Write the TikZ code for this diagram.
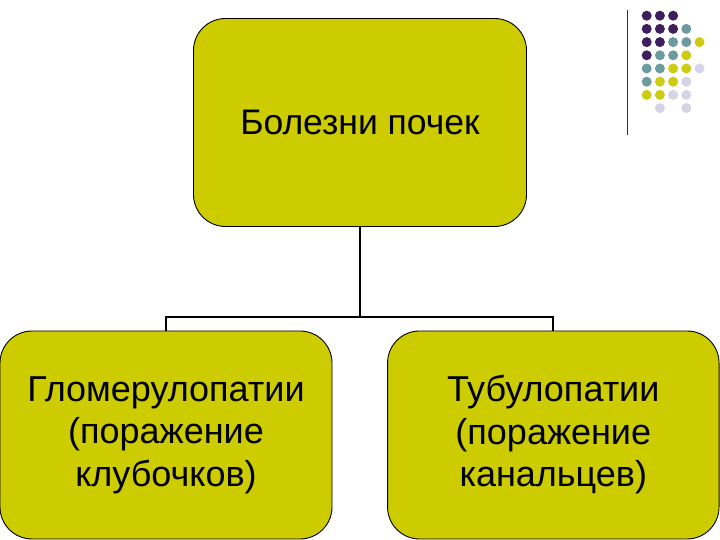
\documentclass[tikz,border=0pt]{standalone}
\usepackage{fontspec}
\setmainfont{Liberation Sans}
\definecolor{boxfill}{RGB}{204,204,0}
\definecolor{dpurple}{RGB}{62,30,92}
\definecolor{dteal}{RGB}{108,155,157}
\definecolor{dyellow}{RGB}{204,204,20}
\definecolor{dlav}{RGB}{212,212,230}
\tikzset{
  box/.style={draw=black, line width=0.9pt, fill=boxfill, rounded corners=32pt, align=center, inner sep=0pt},
  conn/.style={draw=black, line width=2pt},
  dot/.style={circle, inner sep=0pt, minimum size=10pt}
}
\begin{document}
\begin{tikzpicture}[x=1pt,y=1pt]
\useasboundingbox (0,0) rectangle (720,540);
\node[box, minimum width=333pt, minimum height=208pt, font=\fontsize{35.5}{40}\selectfont] (top) at (360,417.5) {Болезни почек};
\node[box, minimum width=332pt, minimum height=208pt, font=\fontsize{36}{42.5}\selectfont] (left) at (166,105) {Гломерулопатии\\(поражение\\клубочков)};
\node[box, minimum width=331.5pt, minimum height=208pt, font=\fontsize{36}{42.5}\selectfont] (right) at (553.3,105) {Тубулопатии\\(поражение\\канальцев)};
\coordinate (j) at (360,222.5);
\draw[conn] (top.south) -- (j);
\draw[conn] (left.north) |- (j) -| (right.north);
% decorative line and dots
\coordinate (vl1) at (627.7,530);
\coordinate (vl2) at (627.7,405);
\draw[line width=1pt, black!80] (vl1) -- (vl2);
\foreach \r/\cols in {0/{dpurple,dpurple,dpurple},
                      1/{dpurple,dpurple,dpurple,dteal},
                      2/{dpurple,dpurple,dteal,dteal,dyellow},
                      3/{dpurple,dteal,dteal,dyellow},
                      4/{dteal,dteal,dyellow,dyellow,dlav},
                      5/{dteal,dyellow,dyellow,dlav},
                      6/{dyellow,dyellow,dlav,dlav},
                      7/{white,dlav,white,dlav}}{
  \foreach \c [count=\i from 0] in \cols {
    \node[dot, fill=\c] (d\r-\i) at ({646.7+13.2*\i},{540-15.7-13.2*\r}) {};
  }
}
\end{tikzpicture}
\end{document}
